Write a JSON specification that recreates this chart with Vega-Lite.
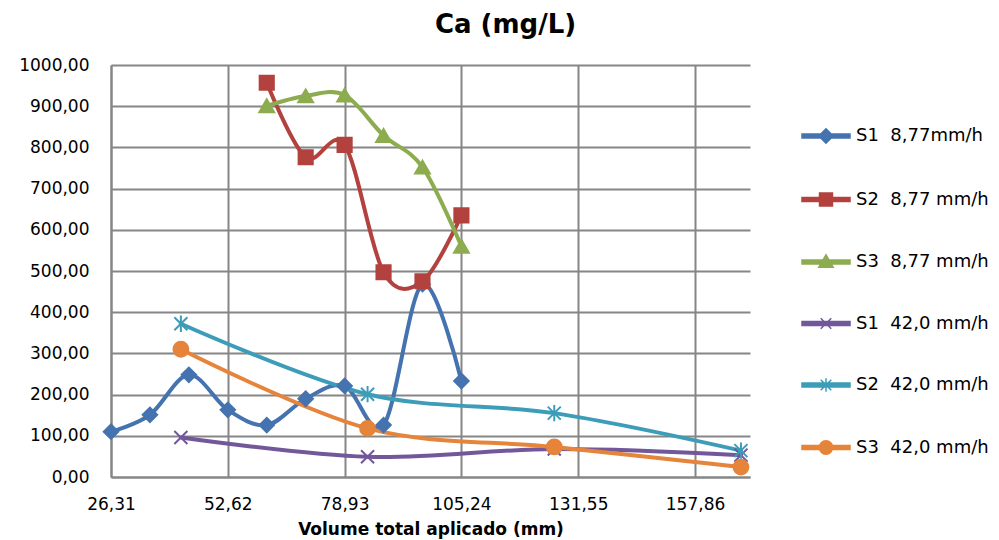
{
  "$schema": "https://vega.github.io/schema/vega-lite/v6.json",
  "width": 639,
  "height": 412,
  "autosize": {"type": "none"},
  "padding": {"left": 111, "top": 65, "right": 249, "bottom": 63},
  "background": "white",
  "title": {"text": "Ca (mg/L)", "font": "DejaVu Sans", "fontSize": 26, "fontWeight": "bold", "color": "#000000", "anchor": "middle", "dx": 75, "offset": -3, "baseline": "alphabetic"},
  "config": {
    "view": {"stroke": null},
    "axis": {"gridColor": "#868686", "gridWidth": 2, "domainColor": "#868686", "domainWidth": 2, "ticks": false, "labelFont": "DejaVu Sans", "labelFontSize": 17, "labelColor": "#000000"}
  },
  "data": {"values": [
    {"serie": "S1\u00a0\u00a08,77mm/h", "volume": 26.31, "ca": 110},
    {"serie": "S1\u00a0\u00a08,77mm/h", "volume": 35.08, "ca": 151},
    {"serie": "S1\u00a0\u00a08,77mm/h", "volume": 43.85, "ca": 248},
    {"serie": "S1\u00a0\u00a08,77mm/h", "volume": 52.62, "ca": 163},
    {"serie": "S1\u00a0\u00a08,77mm/h", "volume": 61.39, "ca": 126},
    {"serie": "S1\u00a0\u00a08,77mm/h", "volume": 70.16, "ca": 190},
    {"serie": "S1\u00a0\u00a08,77mm/h", "volume": 78.93, "ca": 221},
    {"serie": "S1\u00a0\u00a08,77mm/h", "volume": 87.70, "ca": 126},
    {"serie": "S1\u00a0\u00a08,77mm/h", "volume": 96.47, "ca": 468},
    {"serie": "S1\u00a0\u00a08,77mm/h", "volume": 105.24, "ca": 233},
    {"serie": "S2\u00a0\u00a08,77 mm/h", "volume": 61.39, "ca": 957},
    {"serie": "S2\u00a0\u00a08,77 mm/h", "volume": 70.16, "ca": 776},
    {"serie": "S2\u00a0\u00a08,77 mm/h", "volume": 78.93, "ca": 806},
    {"serie": "S2\u00a0\u00a08,77 mm/h", "volume": 87.70, "ca": 497},
    {"serie": "S2\u00a0\u00a08,77 mm/h", "volume": 96.47, "ca": 475},
    {"serie": "S2\u00a0\u00a08,77 mm/h", "volume": 105.24, "ca": 635},
    {"serie": "S3\u00a0\u00a08,77 mm/h", "volume": 61.39, "ca": 901},
    {"serie": "S3\u00a0\u00a08,77 mm/h", "volume": 70.16, "ca": 925},
    {"serie": "S3\u00a0\u00a08,77 mm/h", "volume": 78.93, "ca": 927},
    {"serie": "S3\u00a0\u00a08,77 mm/h", "volume": 87.70, "ca": 829},
    {"serie": "S3\u00a0\u00a08,77 mm/h", "volume": 96.47, "ca": 752},
    {"serie": "S3\u00a0\u00a08,77 mm/h", "volume": 105.24, "ca": 560},
    {"serie": "S1\u00a0\u00a042,0 mm/h", "volume": 42.05, "ca": 96},
    {"serie": "S1\u00a0\u00a042,0 mm/h", "volume": 84.1, "ca": 49},
    {"serie": "S1\u00a0\u00a042,0 mm/h", "volume": 126.15, "ca": 68},
    {"serie": "S1\u00a0\u00a042,0 mm/h", "volume": 168.2, "ca": 53},
    {"serie": "S2\u00a0\u00a042,0 mm/h", "volume": 42.05, "ca": 372},
    {"serie": "S2\u00a0\u00a042,0 mm/h", "volume": 84.1, "ca": 201},
    {"serie": "S2\u00a0\u00a042,0 mm/h", "volume": 126.15, "ca": 155},
    {"serie": "S2\u00a0\u00a042,0 mm/h", "volume": 168.2, "ca": 64},
    {"serie": "S3\u00a0\u00a042,0 mm/h", "volume": 42.05, "ca": 310},
    {"serie": "S3\u00a0\u00a042,0 mm/h", "volume": 84.1, "ca": 118},
    {"serie": "S3\u00a0\u00a042,0 mm/h", "volume": 126.15, "ca": 73},
    {"serie": "S3\u00a0\u00a042,0 mm/h", "volume": 168.2, "ca": 24}
  ]},
  "encoding": {
    "x": {"field": "volume", "type": "quantitative",
      "scale": {"domain": [26.31, 170.24], "nice": false, "zero": false},
      "axis": {"values": [26.31, 52.62, 78.93, 105.24, 131.55, 157.86], "labelExpr": "replace(format(datum.value, '.2f'), '.', ',')", "labelPadding": 19, "labelFlush": false, "labelOverlap": false,
        "title": "Volume total aplicado (mm)", "titleFont": "DejaVu Sans", "titleFontSize": 17, "titleFontWeight": "bold", "titleColor": "#000000", "titlePadding": 9}},
    "y": {"field": "ca", "type": "quantitative",
      "scale": {"domain": [0, 1000], "nice": false},
      "axis": {"values": [0, 100, 200, 300, 400, 500, 600, 700, 800, 900, 1000], "labelExpr": "replace(format(datum.value, '.2f'), '.', ',')", "labelPadding": 22, "title": null}},
    "color": {"field": "serie", "type": "nominal",
      "scale": {"domain": ["S1\u00a0\u00a08,77mm/h", "S2\u00a0\u00a08,77 mm/h", "S3\u00a0\u00a08,77 mm/h", "S1\u00a0\u00a042,0 mm/h", "S2\u00a0\u00a042,0 mm/h", "S3\u00a0\u00a042,0 mm/h"],
        "range": ["#4573B0", "#B3413E", "#8DAC4F", "#72589A", "#3D9DB8", "#E5843A"]},
      "legend": null},
    "stroke": {"field": "serie", "type": "nominal",
      "scale": {"domain": ["S1\u00a0\u00a08,77mm/h", "S2\u00a0\u00a08,77 mm/h", "S3\u00a0\u00a08,77 mm/h", "S1\u00a0\u00a042,0 mm/h", "S2\u00a0\u00a042,0 mm/h", "S3\u00a0\u00a042,0 mm/h"],
        "range": ["#4573B0", "#B3413E", "#8DAC4F", "#72589A", "#3D9DB8", "#E5843A"]},
      "legend": null}
  },
  "resolve": {"scale": {"color": "independent", "stroke": "independent", "shape": "independent"}, "legend": {"color": "independent", "stroke": "independent", "shape": "independent"}},
  "layer": [
    {"mark": {"type": "line", "interpolate": "cardinal", "strokeWidth": 4, "strokeJoin": "round", "strokeCap": "round"}},
    {"transform": [{"filter": {"field": "serie", "equal": "S1\u00a0\u00a08,77mm/h"}}],
      "mark": {"type": "point", "shape": "diamond", "filled": true, "size": 210, "strokeWidth": 2, "opacity": 1}},
    {"transform": [{"filter": {"field": "serie", "equal": "S2\u00a0\u00a08,77 mm/h"}}],
      "mark": {"type": "point", "shape": "square", "filled": true, "size": 200, "strokeWidth": 2, "opacity": 1}},
    {"transform": [{"filter": {"field": "serie", "equal": "S3\u00a0\u00a08,77 mm/h"}}],
      "mark": {"type": "point", "shape": "triangle-up", "filled": true, "size": 220, "strokeWidth": 2, "opacity": 1}},
    {"transform": [{"filter": {"field": "serie", "equal": "S1\u00a0\u00a042,0 mm/h"}}],
      "mark": {"type": "point", "shape": "M-1,-1L1,1M-1,1L1,-1", "filled": true, "size": 170, "strokeWidth": 2, "opacity": 1}},
    {"transform": [{"filter": {"field": "serie", "equal": "S2\u00a0\u00a042,0 mm/h"}}],
      "mark": {"type": "point", "shape": "M-1,-1L1,1M-1,1L1,-1M0,-1.25L0,1.25", "filled": true, "size": 170, "strokeWidth": 2, "opacity": 1}},
    {"transform": [{"filter": {"field": "serie", "equal": "S3\u00a0\u00a042,0 mm/h"}}],
      "mark": {"type": "point", "shape": "circle", "filled": true, "size": 220, "strokeWidth": 2, "opacity": 1}},
    {"mark": {"type": "point", "filled": true, "opacity": 0},
      "encoding": {
        "color": {"field": "serie", "type": "nominal",
          "scale": {"domain": ["S1\u00a0\u00a08,77mm/h", "S2\u00a0\u00a08,77 mm/h", "S3\u00a0\u00a08,77 mm/h", "S1\u00a0\u00a042,0 mm/h", "S2\u00a0\u00a042,0 mm/h", "S3\u00a0\u00a042,0 mm/h"],
            "range": ["#4573B0", "#B3413E", "#8DAC4F", "#72589A", "#3D9DB8", "#E5843A"]},
          "legend": {"title": null, "orient": "none", "legendX": 690, "legendY": 46, "direction": "vertical", "padding": 0,
            "symbolSize": 2304, "symbolOpacity": 1, "symbolStrokeWidth": 1.5, "rowPadding": 27.5, "labelOffset": 5, "labelFont": "DejaVu Sans", "labelFontSize": 18, "labelColor": "#000000", "labelLimit": 0}},
        "stroke": {"field": "serie", "type": "nominal",
          "scale": {"domain": ["S1\u00a0\u00a08,77mm/h", "S2\u00a0\u00a08,77 mm/h", "S3\u00a0\u00a08,77 mm/h", "S1\u00a0\u00a042,0 mm/h", "S2\u00a0\u00a042,0 mm/h", "S3\u00a0\u00a042,0 mm/h"],
            "range": ["#4573B0", "#B3413E", "#8DAC4F", "#72589A", "#3D9DB8", "#E5843A"]},
          "legend": {"title": null, "orient": "none", "legendX": 690, "legendY": 46, "direction": "vertical", "padding": 0,
            "symbolSize": 2304, "symbolOpacity": 1, "symbolStrokeWidth": 1.5, "rowPadding": 27.5, "labelOffset": 5, "labelFont": "DejaVu Sans", "labelFontSize": 18, "labelColor": "#000000", "labelLimit": 0}},
        "shape": {"field": "serie", "type": "nominal",
          "scale": {"domain": ["S1\u00a0\u00a08,77mm/h", "S2\u00a0\u00a08,77 mm/h", "S3\u00a0\u00a08,77 mm/h", "S1\u00a0\u00a042,0 mm/h", "S2\u00a0\u00a042,0 mm/h", "S3\u00a0\u00a042,0 mm/h"],
            "range": [
              "M-1,-0.08H1V0.08H-1Z M0,-0.3L0.3,0L0,0.3L-0.3,0Z",
              "M-1,-0.08H1V0.08H-1Z M-0.27,-0.27H0.27V0.27H-0.27Z",
              "M-1,-0.08H1V0.08H-1Z M0,-0.3L0.3,0.22L-0.3,0.22Z",
              "M-1,-0.08H1V0.08H-1Z M-0.22,-0.22L0.22,0.22M-0.22,0.22L0.22,-0.22",
              "M-1,-0.08H1V0.08H-1Z M-0.22,-0.22L0.22,0.22M-0.22,0.22L0.22,-0.22M0,-0.28L0,0.28",
              "M-1,-0.08H1V0.08H-1Z M-0.28,0A0.28,0.28,0,1,1,0.28,0A0.28,0.28,0,1,1,-0.28,0Z"
            ]},
          "legend": {"title": null, "orient": "none", "legendX": 690, "legendY": 46, "direction": "vertical", "padding": 0,
            "symbolSize": 2304, "symbolOpacity": 1, "symbolStrokeWidth": 1.5, "rowPadding": 27.5, "labelOffset": 5, "labelFont": "DejaVu Sans", "labelFontSize": 18, "labelColor": "#000000", "labelLimit": 0}}
      }}
  ]
}
